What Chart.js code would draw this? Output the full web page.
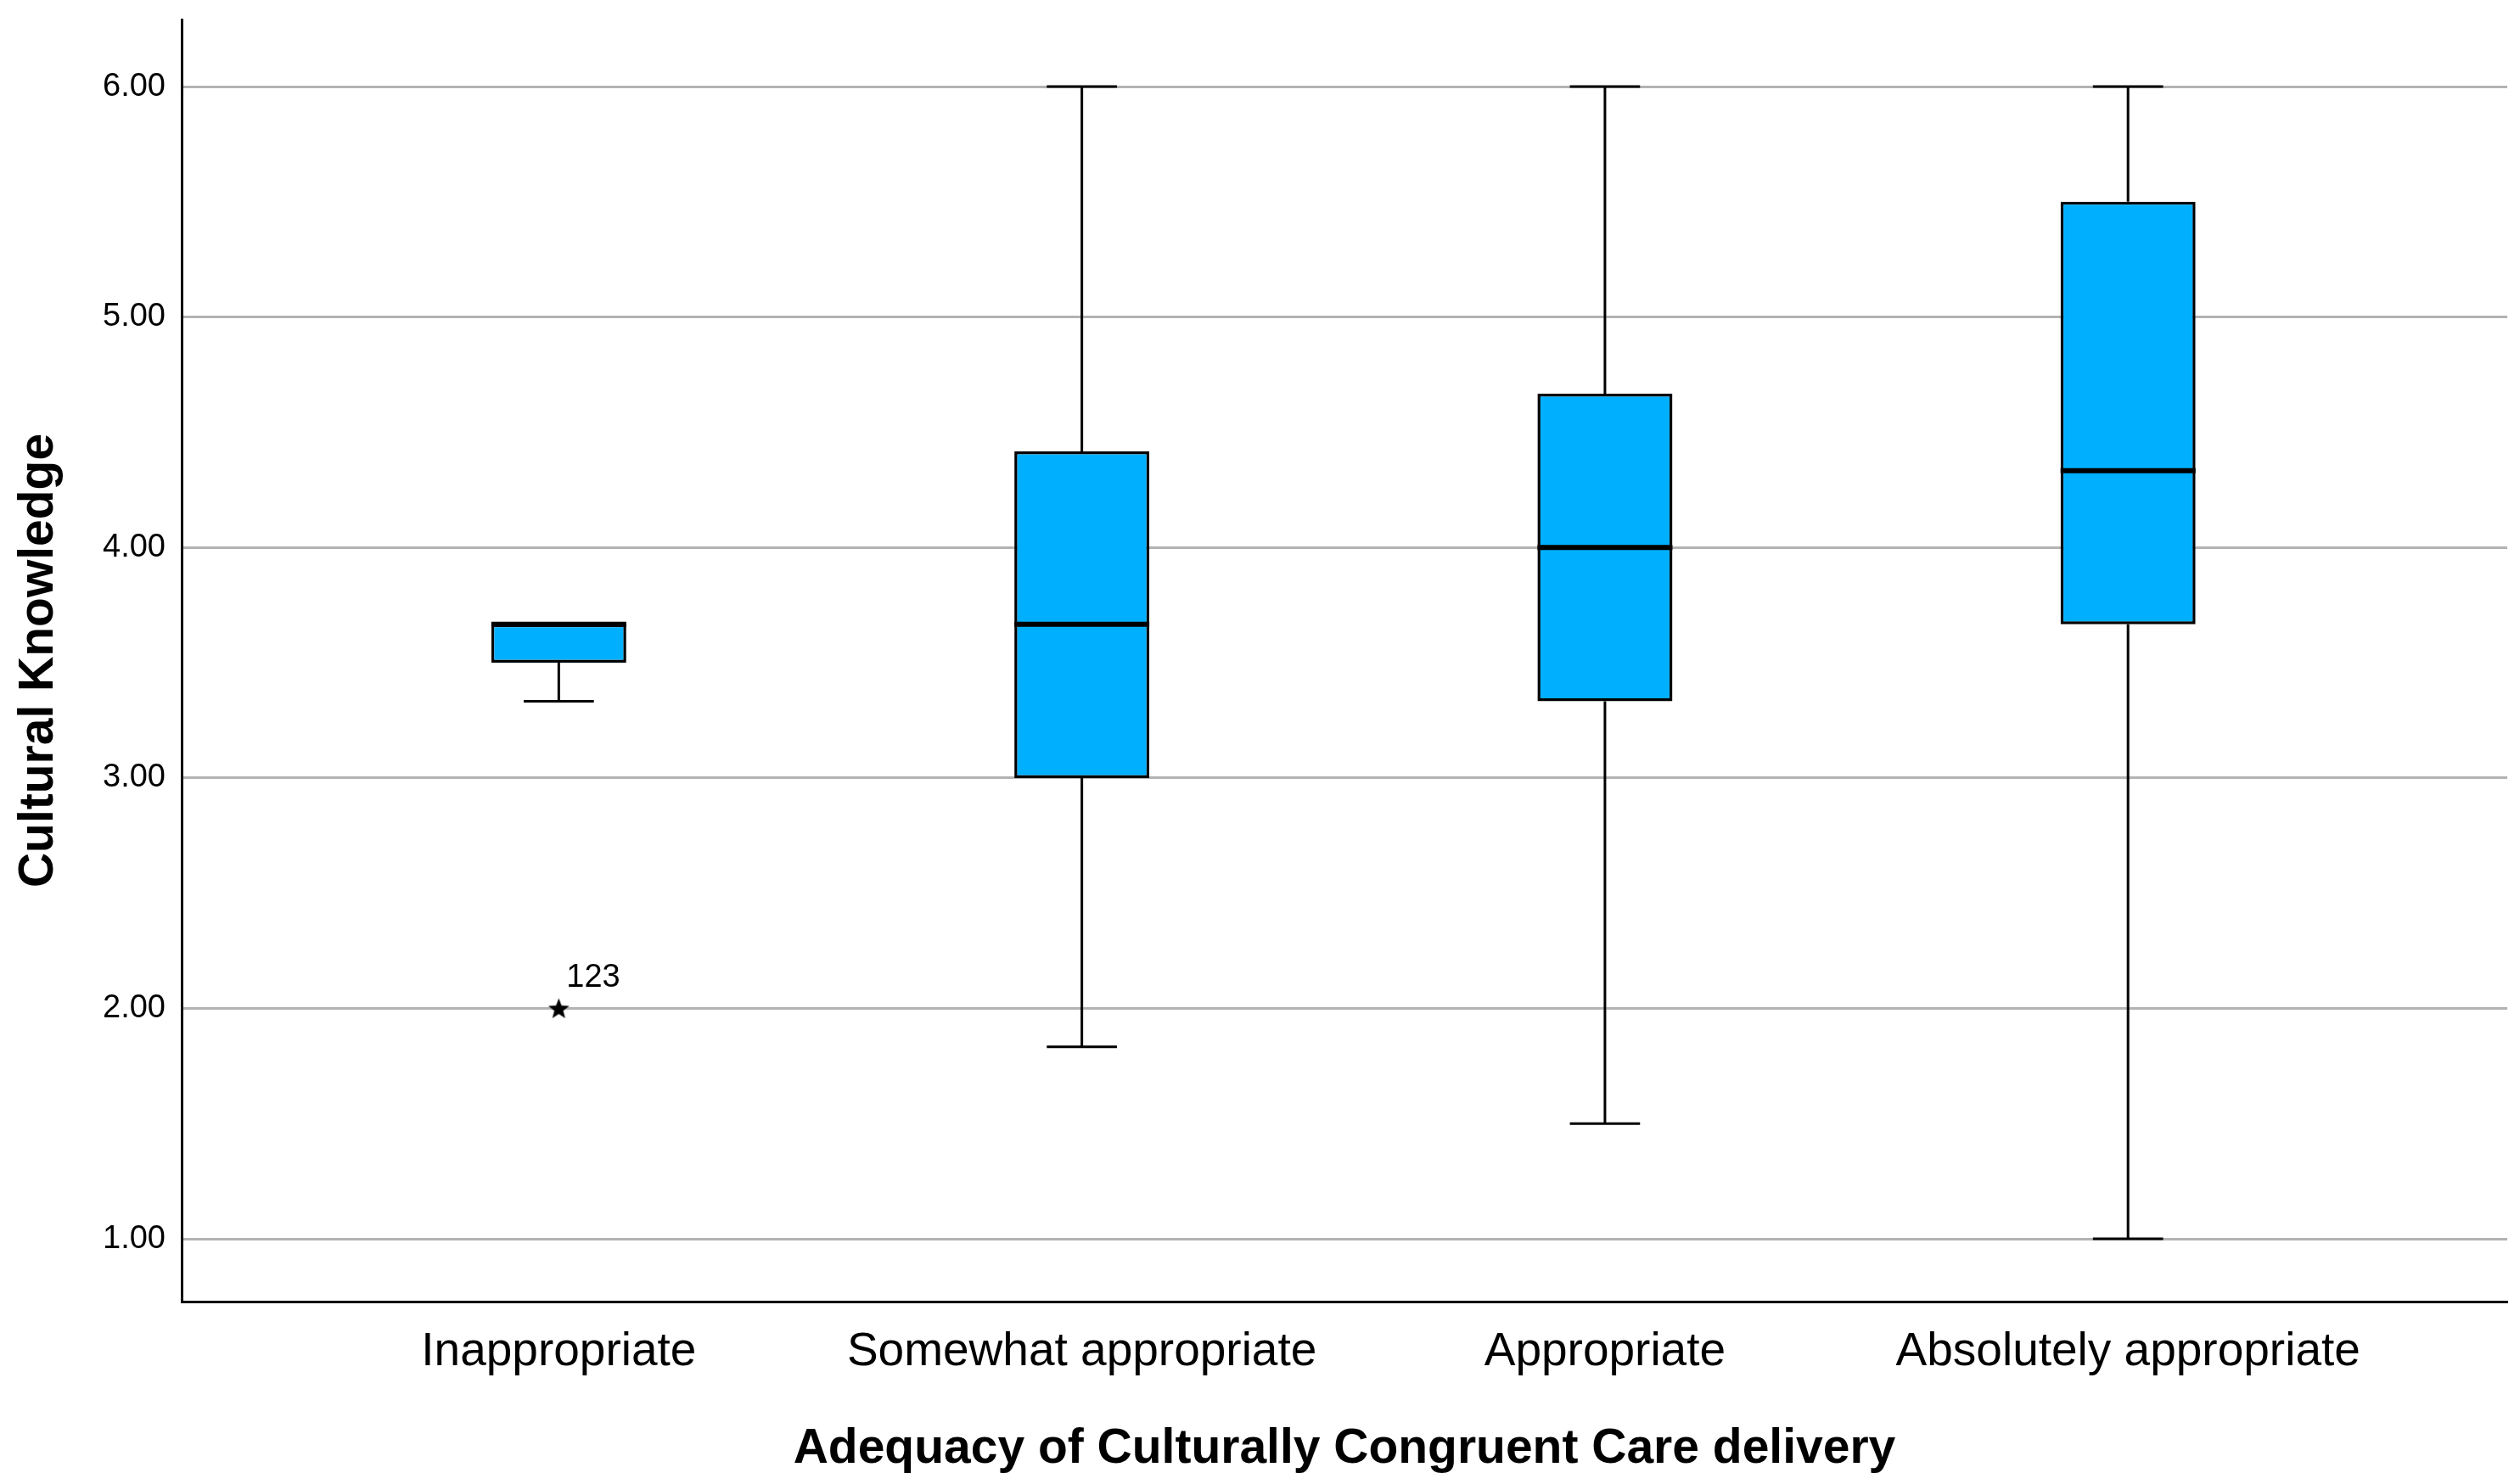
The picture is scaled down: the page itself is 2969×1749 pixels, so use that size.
<!DOCTYPE html>
<html>
<head>
<meta charset="utf-8">
<script src="https://cdn.jsdelivr.net/npm/chart.js@4.4.1/dist/chart.umd.min.js"></script>
<style>
  html, body { margin: 0; padding: 0; background: #fff; overflow: hidden; }
  #wrap { width: 2969px; height: 1749px; }
</style>
</head>
<body>
<div id="wrap"><canvas id="boxChart"></canvas></div>
<script>
// box plot summary per group
const categories = ['Inappropriate', 'Somewhat appropriate', 'Appropriate', 'Absolutely appropriate'];
const whiskerLow = [3.333, 1.833, 1.5, 1.0];
const q1 = [3.5, 3.0, 3.333, 3.667];
const median = [3.667, 3.667, 4.0, 4.333];
const q3 = [3.667, 4.417, 4.667, 5.5];
const whiskerHigh = [3.667, 6.0, 6.0, 6.0];

// extreme values (SPSS star) with case number
const outlierGroup = [1];
const outlierValue = [2.0];
const outlierLabel = ['123'];

const yTicks = [1, 2, 3, 4, 5, 6];

const FONT = "'Liberation Sans', Arial, sans-serif";

function makeStar(size) {
    const c = document.createElement('canvas');
    c.width = size;
    c.height = size;
    const g = c.getContext('2d');
    const cx = size / 2, cy = size / 2 + 1;
    const outer = size / 2 - 1, inner = outer * 0.42;
    g.beginPath();
    for (let i = 0; i < 10; i++) {
        const r = i % 2 === 0 ? outer : inner;
        const a = -Math.PI / 2 + i * Math.PI / 5;
        const px = cx + r * Math.cos(a), py = cy + r * Math.sin(a);
        if (i === 0) g.moveTo(px, py); else g.lineTo(px, py);
    }
    g.closePath();
    g.fillStyle = '#000';
    g.fill();
    return c;
}

const boxParts = {
    id: 'boxParts',
    beforeDatasetsDraw(chart) {
        const {ctx, scales: {x, y}} = chart;
        const bars = chart.getDatasetMeta(0).data;
        ctx.save();
        ctx.strokeStyle = '#000';
        ctx.lineWidth = 3;
        categories.forEach((c, i) => {
            const px = x.getPixelForValue(i + 1);
            const cap = bars[i].width * 0.26;
            const segs = [[q3[i], whiskerHigh[i]], [q1[i], whiskerLow[i]]];
            segs.forEach(([from, to]) => {
                if (from === to) return;
                const y0 = y.getPixelForValue(from), y1 = y.getPixelForValue(to);
                ctx.beginPath();
                ctx.moveTo(px, y0);
                ctx.lineTo(px, y1);
                ctx.moveTo(px - cap, y1);
                ctx.lineTo(px + cap, y1);
                ctx.stroke();
            });
        });
        ctx.restore();
    },
    afterDatasetsDraw(chart) {
        const {ctx, scales: {x, y}} = chart;
        const bars = chart.getDatasetMeta(0).data;
        ctx.save();
        ctx.strokeStyle = '#000';
        ctx.lineWidth = 6;
        categories.forEach((c, i) => {
            const px = x.getPixelForValue(i + 1);
            const half = bars[i].width / 2;
            const py = y.getPixelForValue(median[i]);
            ctx.beginPath();
            ctx.moveTo(px - half, py);
            ctx.lineTo(px + half, py);
            ctx.stroke();
        });
        ctx.fillStyle = '#000';
        ctx.font = '38px ' + FONT;
        ctx.textAlign = 'left';
        ctx.textBaseline = 'alphabetic';
        outlierLabel.forEach((lab, i) => {
            const px = x.getPixelForValue(outlierGroup[i]);
            const py = y.getPixelForValue(outlierValue[i]);
            ctx.fillText(lab, px + 9, py - 26);
        });
        ctx.restore();
    }
};

const starImg = makeStar(28);

function noPad(axis) {
    axis.paddingTop = 0;
    axis.paddingBottom = 0;
    axis.paddingLeft = 0;
    axis.paddingRight = 0;
}

new Chart(document.getElementById('boxChart'), {
    type: 'bar',
    data: {
        datasets: [
            {
                type: 'bar',
                data: categories.map((c, i) => ({ x: i + 1, y: [q1[i], q3[i]] })),
                backgroundColor: '#00B0FF',
                borderColor: '#000',
                borderWidth: 3.5,
                borderSkipped: false,
                barPercentage: 0.258,
                categoryPercentage: 1
            },
            {
                type: 'scatter',
                data: outlierValue.map((v, i) => ({ x: outlierGroup[i], y: v })),
                pointStyle: starImg,
                pointRadius: 14
            }
        ]
    },
    options: {
        responsive: true,
        maintainAspectRatio: false,
        animation: false,
        devicePixelRatio: 1,
        layout: { padding: { top: 23, right: 14, left: 0, bottom: 0 } },
        plugins: {
            legend: { display: false },
            tooltip: { enabled: false }
        },
        scales: {
            x: {
                type: 'linear',
                offset: false,
                min: 0.279,
                max: 4.725,
                afterBuildTicks: axis => { axis.ticks = categories.map((c, i) => ({ value: i + 1 })); },
                afterFit: axis => { axis.height = 215; noPad(axis); },
                grid: { display: false, drawTicks: false },
                border: { display: true, color: '#000', width: 3 },
                ticks: {
                    color: '#000',
                    padding: 27,
                    maxRotation: 0,
                    autoSkip: false,
                    font: { family: FONT, size: 55 },
                    callback: v => categories[v - 1]
                },
                title: {
                    display: true,
                    text: 'Adequacy of Culturally Congruent Care delivery',
                    color: '#000',
                    padding: { top: 0, bottom: 7 },
                    font: { family: FONT, size: 57, weight: 'bold' }
                }
            },
            y: {
                min: 0.728,
                max: 6.291,
                afterBuildTicks: axis => { axis.ticks = yTicks.map(v => ({ value: v })); },
                afterFit: axis => { axis.width = 214; noPad(axis); },
                grid: { color: '#b3b3b3', lineWidth: 3, drawTicks: false },
                border: { display: true, color: '#000', width: 3 },
                ticks: {
                    color: '#000',
                    padding: 19,
                    font: { family: FONT, size: 38 },
                    callback: v => v.toFixed(2)
                },
                title: {
                    display: true,
                    text: 'Cultural Knowledge',
                    color: '#000',
                    padding: { top: 12, bottom: 0 },
                    font: { family: FONT, size: 57, weight: 'bold' }
                }
            }
        }
    },
    plugins: [boxParts]
});
</script>
</body>
</html>
